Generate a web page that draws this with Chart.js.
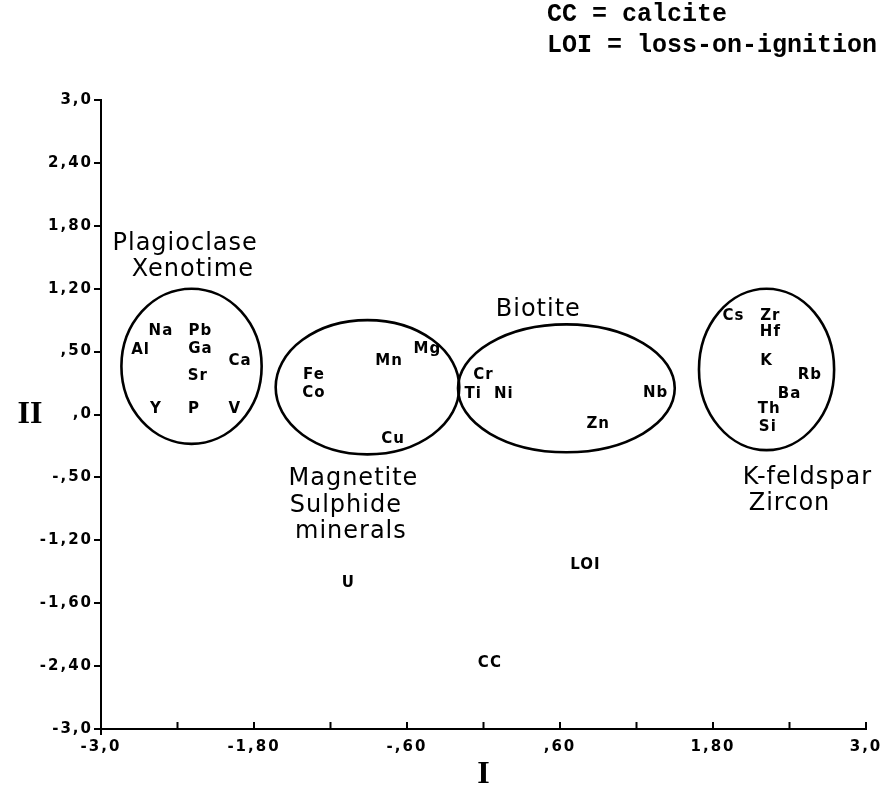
<!DOCTYPE html>
<html>
<head>
<meta charset="utf-8">
<script src="https://cdn.jsdelivr.net/npm/chart.js@4.4.0/dist/chart.umd.min.js"></script>
<style>
  html, body { margin: 0; padding: 0; background: #fff; }
  #wrap { width: 882px; height: 794px; }
</style>
</head>
<body>
<div id="wrap"><canvas id="loadings" width="882" height="794"></canvas></div>
<script>
// element loadings on components I and II
var elements = ['Na', 'Pb', 'Al', 'Ga', 'Ca', 'Sr', 'Y', 'P', 'V',
                'Fe', 'Co', 'Mn', 'Mg', 'Cu',
                'Cr', 'Ti', 'Ni', 'Nb', 'Zn',
                'Cs', 'Zr', 'Hf', 'K', 'Rb', 'Ba', 'Th', 'Si',
                'U', 'LOI', 'CC'];
var compI  = [-2.53, -2.22, -2.69, -2.22, -1.91, -2.24, -2.57, -2.27, -1.95,
              -1.33, -1.33, -0.74, -0.44, -0.71,
               0.00, -0.08, 0.16, 1.35, 0.90,
               1.96, 2.25, 2.25, 2.22, 2.56, 2.40, 2.24, 2.23,
              -1.06, 0.80, 0.05];
var compII = [0.80, 0.80, 0.61, 0.62, 0.51, 0.37, 0.05, 0.05, 0.05,
              0.38, 0.20, 0.51, 0.62, -0.23,
              0.38, 0.19, 0.19, 0.20, -0.09,
              0.94, 0.94, 0.79, 0.51, 0.38, 0.19, 0.05, -0.12,
              -1.61, -1.44, -2.37];

// tick text as printed on the axes
var tickTextI  = ['-3,0', '', '-1,80', '', '-,60', '', ',60', '', '1,80', '', '3,0'];
var tickTextII = ['-3,0', '-2,40', '-1,60', '-1,20', '-,50', ',0', ',50', '1,20', '1,80', '2,40', '3,0'];

// mineral groups: ellipse centre and half-axes in component units
var groupCentreI  = [-2.29, -0.91, 0.65, 2.22];
var groupCentreII = [0.46, 0.26, 0.25, 0.43];
var groupRadiusI  = [0.55, 0.72, 0.85, 0.53];
var groupRadiusII = [0.74, 0.64, 0.61, 0.77];

// group captions, one entry per line
var captionText = ['Plagioclase', 'Xenotime', 'Biotite', 'Magnetite', 'Sulphide', 'minerals', 'K-feldspar', 'Zircon'];
var captionI    = [-2.34, -2.28, 0.43, -1.02, -1.08, -1.04, 2.54, 2.40];
var captionII   = [1.63, 1.38, 1.00, -0.61, -0.87, -1.12, -0.60, -0.85];

var notes = ['CC = calcite', 'LOI = loss-on-ignition'];

var fixedTicks = function(scale) {
    scale.ticks = [];
    for (var i = 0; i <= 10; i++) {
        scale.ticks.push({ value: -3 + 0.6 * i });
    }
};

var loadingsPlugin = {
    id: 'loadings',
    beforeDraw: function(chart) {
        // spaced-out tick digits
        chart.ctx.letterSpacing = '2px';
    },
    afterDraw: function(chart) {
        var ctx = chart.ctx;
        var xs = chart.scales.x;
        var ys = chart.scales.y;
        ctx.save();
        ctx.strokeStyle = '#000';
        ctx.fillStyle = '#000';

        // x ticks point up into the plot
        ctx.lineWidth = 2;
        xs.ticks.forEach(function(t, i) {
            var px = xs.getPixelForTick(i);
            ctx.beginPath();
            ctx.moveTo(px, ys.bottom);
            ctx.lineTo(px, ys.bottom - 7);
            ctx.stroke();
        });
        // little overhang where the axes cross
        ctx.beginPath();
        ctx.moveTo(xs.left, ys.bottom);
        ctx.lineTo(xs.left, ys.bottom + 6);
        ctx.stroke();

        // group ellipses
        ctx.lineWidth = 2.6;
        groupCentreI.forEach(function(c, g) {
            var cx = xs.getPixelForValue(c);
            var cy = ys.getPixelForValue(groupCentreII[g]);
            var rx = xs.getPixelForValue(c + groupRadiusI[g]) - cx;
            var ry = cy - ys.getPixelForValue(groupCentreII[g] + groupRadiusII[g]);
            ctx.beginPath();
            ctx.ellipse(cx, cy, rx, ry, 0, 0, 2 * Math.PI);
            ctx.stroke();
        });

        // element names at their points
        ctx.textAlign = 'center';
        ctx.textBaseline = 'middle';
        ctx.font = 'bold 15px "DejaVu Sans"';
        ctx.letterSpacing = '1px';
        chart.getDatasetMeta(0).data.forEach(function(pt, i) {
            ctx.fillText(elements[i], pt.x, pt.y);
        });

        // group captions
        ctx.font = '24px "DejaVu Sans"';
        ctx.letterSpacing = '1px';
        captionText.forEach(function(txt, i) {
            ctx.fillText(txt, xs.getPixelForValue(captionI[i]), ys.getPixelForValue(captionII[i]));
        });

        // axis names
        ctx.letterSpacing = '0px';
        ctx.font = 'bold 32px "Liberation Serif"';
        ctx.fillText('II', 30, ys.getPixelForValue(0));
        ctx.fillText('I', xs.getPixelForValue(0), 775);

        // abbreviations
        ctx.textAlign = 'left';
        ctx.font = 'bold 25px "Liberation Mono"';
        ctx.fillText(notes[0], 547, 15);
        ctx.fillText(notes[1], 547, 46);
        ctx.restore();
    }
};

var tickFont = { family: 'DejaVu Sans', size: 15, weight: 'bold' };

var ctx = document.getElementById('loadings').getContext('2d');
var loadingsChart = new Chart(ctx, {
    type: 'scatter',
    data: {
        datasets: [{
            data: elements.map(function(e, i) { return { x: compI[i], y: compII[i] }; }),
            pointRadius: 0,
            pointHoverRadius: 0
        }]
    },
    options: {
        responsive: false,
        devicePixelRatio: 1,
        animation: false,
        layout: { padding: { top: 100, right: 16, bottom: 0, left: 0 } },
        plugins: {
            legend: { display: false },
            tooltip: { enabled: false }
        },
        scales: {
            x: {
                type: 'linear',
                min: -3,
                max: 3,
                afterBuildTicks: fixedTicks,
                afterFit: function(scale) { scale.height = 65; },
                grid: { display: false },
                border: { display: true, color: '#000', width: 2 },
                ticks: {
                    color: '#000',
                    font: tickFont,
                    maxRotation: 0,
                    autoSkip: false,
                    padding: 1,
                    callback: function(v, i) { return tickTextI[i]; }
                }
            },
            y: {
                type: 'linear',
                min: -3,
                max: 3,
                afterBuildTicks: fixedTicks,
                afterFit: function(scale) { scale.width = 101; },
                grid: { drawOnChartArea: false, drawTicks: true, tickLength: 7, color: '#000', lineWidth: 2 },
                border: { display: true, color: '#000', width: 2 },
                ticks: {
                    color: '#000',
                    font: tickFont,
                    autoSkip: false,
                    padding: 1,
                    callback: function(v, i) { return tickTextII[i]; }
                }
            }
        }
    },
    plugins: [loadingsPlugin]
});
</script>
</body>
</html>
